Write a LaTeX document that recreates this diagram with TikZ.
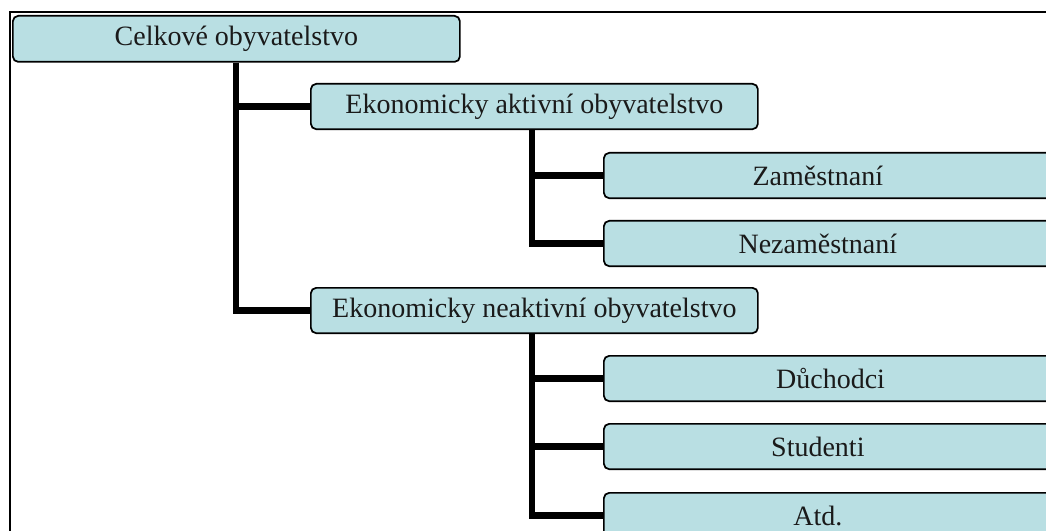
\documentclass[tikz,border=0pt]{standalone}
\usepackage{fontspec}
\setmainfont{Liberation Serif}
\definecolor{boxfill}{HTML}{B9DFE3}
\definecolor{txt}{HTML}{1A1A1A}
\newcommand{\leaftext}[2][321pt]{\makebox[#1]{#2}}
\begin{document}
\begin{tikzpicture}[x=0.75pt,y=-0.75pt,
  every node/.style={font=\fontsize{21}{25}\selectfont, text=txt},
  box/.style={draw=black, line width=1.3pt, fill=boxfill, rounded corners=4pt,
    anchor=north west, inner sep=0pt, minimum height=34pt},
  leaf/.style={box, text width=345pt, minimum width=345pt, align=left},
  conn/.style={line width=4.6pt, draw=black}]
\useasboundingbox (0,0) rectangle (1046,531);
\draw[line width=1.7pt] (10,545) -- (10,12) -- (1060,12);
\node[box, minimum width=335.25pt, minimum height=34.5pt] (celk) at (12,15) {Celkové obyvatelstvo};
\node[box, minimum width=335.25pt] (akt) at (310,83) {Ekonomicky aktivní obyvatelstvo};
\node[box, minimum width=335.25pt] (neakt) at (310,287) {Ekonomicky neaktivní obyvatelstvo};
\node[leaf] (zam) at (603,152) {\leaftext{Zaměstnaní}};
\node[leaf] (nezam) at (603,220) {\leaftext{Nezaměstnaní}};
\node[leaf] (duch) at (603,355) {\leaftext[340pt]{Důchodci}};
\node[leaf] (stud) at (603,423) {\leaftext{Studenti}};
\node[leaf] (atd) at (603,492) {\leaftext{Atd.}};
\coordinate (v2) at (532,0);
\draw[conn] (celk.south) |- (akt.west);
\draw[conn] (celk.south) |- (neakt.west);
\draw[conn] (akt.south -| v2) |- (zam.west);
\draw[conn] (akt.south -| v2) |- (nezam.west);
\draw[conn] (neakt.south -| v2) |- (duch.west);
\draw[conn] (neakt.south -| v2) |- (stud.west);
\draw[conn] (neakt.south -| v2) |- (atd.west);
\end{tikzpicture}
\end{document}
